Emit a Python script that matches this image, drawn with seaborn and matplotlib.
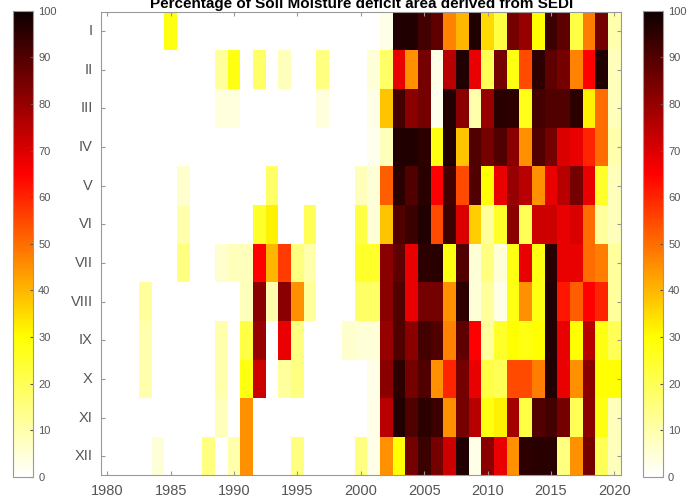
import numpy as np
import pandas as pd
import seaborn as sns
import matplotlib
matplotlib.use("Agg")
import matplotlib.pyplot as plt
from matplotlib.colors import LinearSegmentedColormap

# years on the x axis, months (roman) on the y axis
years = list(range(1980, 2021))
months = ["I", "II", "III", "IV", "V", "VI", "VII", "VIII", "IX", "X", "XI", "XII"]
year_ticks = [1980, 1985, 1990, 1995, 2000, 2005, 2010, 2015, 2020]
cbar_ticks = [0, 10, 20, 30, 40, 50, 60, 70, 80, 90, 100]

# percentage of deficit area, 1980..2020 for each month
m_I = [0, 0, 0, 0, 0, 28, 0, 0, 0, 0, 0, 0, 0, 0, 0, 0, 0, 0, 0, 0, 0, 0,
       3, 97, 97, 92, 88, 47, 40, 97, 35, 22, 85, 80, 30, 93, 88, 22, 48, 85, 10]
m_II = [0, 0, 0, 0, 0, 0, 0, 0, 0, 12, 28, 0, 18, 0, 8, 0, 0, 15, 0, 0, 0, 5,
        18, 68, 45, 85, 3, 75, 97, 68, 20, 85, 28, 55, 95, 88, 85, 47, 65, 97, 8]
m_III = [0, 0, 0, 0, 0, 0, 0, 0, 0, 4, 4, 0, 0, 0, 0, 0, 0, 4, 0, 0, 0, 3,
         38, 92, 82, 85, 2, 97, 82, 10, 80, 96, 95, 27, 92, 90, 90, 95, 32, 50, 8]
m_IV = [0, 0, 0, 0, 0, 0, 0, 0, 0, 0, 0, 0, 0, 0, 0, 0, 0, 0, 0, 0, 0, 2,
        8, 97, 97, 95, 28, 97, 38, 90, 85, 90, 82, 45, 90, 85, 70, 68, 60, 50, 10]
m_V = [0, 0, 0, 0, 0, 0, 6, 0, 0, 0, 0, 0, 0, 18, 0, 0, 0, 0, 0, 0, 8, 5,
       52, 96, 90, 96, 65, 92, 55, 90, 30, 68, 80, 75, 45, 68, 75, 85, 68, 25, 8]
m_VI = [0, 0, 0, 0, 0, 0, 10, 0, 0, 0, 0, 0, 25, 32, 0, 0, 20, 0, 0, 0, 22, 5,
        38, 90, 93, 97, 55, 93, 70, 37, 12, 25, 82, 20, 72, 72, 68, 70, 50, 12, 8]
m_VII = [0, 0, 0, 0, 0, 0, 15, 0, 0, 6, 8, 8, 65, 40, 57, 15, 10, 0, 0, 0, 25, 25,
         82, 88, 68, 95, 96, 28, 90, 5, 15, 5, 28, 68, 28, 96, 68, 68, 50, 48, 12]
m_VIII = [0, 0, 0, 12, 0, 0, 0, 0, 0, 0, 0, 8, 82, 10, 82, 45, 12, 0, 0, 0, 18, 18,
          82, 90, 68, 85, 85, 45, 95, 5, 12, 3, 28, 45, 28, 97, 62, 52, 65, 60, 12]
m_IX = [0, 0, 0, 10, 0, 0, 0, 0, 0, 10, 0, 22, 80, 0, 68, 15, 0, 0, 0, 6, 5, 5,
        80, 90, 82, 92, 90, 47, 88, 65, 12, 25, 30, 28, 30, 97, 68, 30, 75, 28, 20]
m_X = [0, 0, 0, 10, 0, 0, 0, 0, 0, 10, 0, 28, 72, 0, 12, 15, 0, 0, 0, 0, 0, 3,
       82, 95, 85, 90, 45, 60, 85, 68, 22, 20, 55, 55, 48, 97, 68, 45, 82, 30, 30]
m_XI = [0, 0, 0, 0, 0, 0, 0, 0, 0, 8, 0, 45, 0, 0, 0, 0, 0, 0, 0, 0, 0, 3,
        75, 97, 90, 95, 93, 45, 85, 75, 28, 32, 78, 22, 90, 92, 85, 20, 82, 28, 8]
m_XII = [0, 0, 0, 0, 5, 0, 0, 0, 15, 0, 10, 45, 0, 0, 0, 15, 0, 0, 0, 0, 15, 3,
         45, 30, 85, 93, 85, 72, 97, 3, 82, 68, 45, 95, 96, 96, 15, 45, 85, 20, 8]

data = pd.DataFrame([m_I, m_II, m_III, m_IV, m_V, m_VI, m_VII, m_VIII,
                     m_IX, m_X, m_XI, m_XII], index=months, columns=years)

cmap = LinearSegmentedColormap.from_list(
    "whyrk", [(0.0, (1, 1, 1)), (0.3, (1, 1, 0)), (0.65, (1, 0, 0)), (1.0, (0.05, 0, 0))])

plt.rcParams["font.family"] = ["Liberation Sans", "DejaVu Sans"]
grey = "#555555"

fig = plt.figure(figsize=(6.95, 5.01), dpi=100)
ax = fig.add_axes([0.1453, 0.0509, 0.7478, 0.9257])
cax_l = fig.add_axes([0.0183, 0.0479, 0.0296, 0.9307])
cax_r = fig.add_axes([0.9247, 0.0479, 0.0296, 0.9307])

sns.heatmap(data, ax=ax, cmap=cmap, vmin=0, vmax=100, cbar=False)

ax.set_xticks([years.index(y) + 0.5 for y in year_ticks])
ax.set_xticklabels([str(y) for y in year_ticks], rotation=0, fontsize=10.5, color=grey)
ax.set_yticks(np.arange(len(months)) + 0.5)
ax.set_yticklabels(months, rotation=0, fontsize=10.5, color=grey)
ax.tick_params(direction="in", top=True, right=True, length=3, color="#999999", pad=6)
ax.set_xlabel("")
ax.set_ylabel("")
for s in ax.spines.values():
    s.set_visible(True)
    s.set_color("#999999")
    s.set_linewidth(0.8)

mappable = ax.collections[0]
for cax in (cax_l, cax_r):
    cb = fig.colorbar(mappable, cax=cax, ticks=cbar_ticks)
    cb.outline.set_edgecolor("#999999")
    cb.outline.set_linewidth(0.8)
    cax.tick_params(labelsize=8, colors=grey, length=2, direction="in")
    for t in cax.get_yticklabels():
        t.set_color(grey)

fig.text(0.52, 1 - 8 / 501, "Percentage of Soil Moisture deficit area derived from SEDI",
         ha="center", va="baseline", fontsize=11, fontweight="bold")

fig.savefig("out.png", dpi=100)
